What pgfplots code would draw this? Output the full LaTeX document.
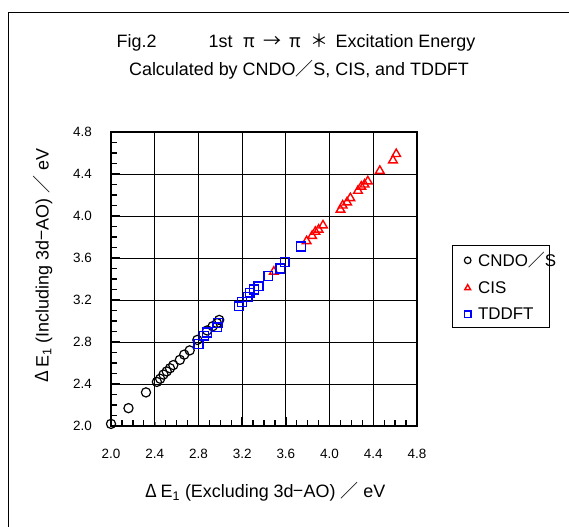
\documentclass[border=0pt]{standalone}
\usepackage{pgfplots}
\pgfplotsset{compat=1.18}
\usepackage{fontspec}
\setmainfont{Liberation Sans}
\newfontfamily\jp{Noto Sans CJK JP}
\newcommand{\fw}[2][1em]{\makebox[#1]{\jp #2}}
\begin{document}
\begin{tikzpicture}
\useasboundingbox (0,0) rectangle (569bp,527bp);
% chart frame: only its left and top edges lie inside the picture
\draw[line width=0.9bp] (8bp,-5bp) -- (8bp,515bp) -- (580bp,515bp);
\node[font=\fontsize{18}{21}\selectfont] at (296bp,484bp) {Fig.2\hspace{2.9em}1st\ \fw[1.3em]{π}\fw[1.3em]{→}\fw[1.3em]{π}\fw[1.3em]{＊} Excitation Energy};
\node[font=\fontsize{18}{21}\selectfont] at (299bp,457bp) {Calculated by CNDO{\jp ／}S, CIS, and TDDFT};
\begin{axis}[
  at={(111bp,101bp)}, anchor=south west,
  scale only axis, width=306bp, height=294bp,
  xmin=2.0, xmax=4.8, ymin=2.0, ymax=4.8,
  xtick={2.0,2.4,2.8,3.2,3.6,4.0,4.4,4.8},
  ytick={2.0,2.4,2.8,3.2,3.6,4.0,4.4,4.8},
  xticklabels={2.0,2.4,2.8,3.2,3.6,4.0,4.4,4.8},
  yticklabels={2.0,2.4,2.8,3.2,3.6,4.0,4.4,4.8},
  tick pos=left, tick align=inside,
  xmajorgrids, ymajorgrids,
  grid style={black, line width=0.9bp},
  axis line style={line width=1.3bp},
  ticklabel style={font=\fontsize{13.5}{16}\selectfont, inner sep=0pt},
  xticklabel style={anchor=north, yshift=-23bp},
  yticklabel style={anchor=east, xshift=-19bp},
  xlabel={\fw{Δ}E\textsubscript{1} (Excluding 3d{\jp −}AO) {\jp ／} eV},
  ylabel={\fw{Δ}E\textsubscript{1} (Including 3d{\jp −}AO) {\jp ／} eV},
  label style={font=\fontsize{18}{21}\selectfont},
  xlabel style={at={(axis description cs:0.5,0)}, anchor=center, yshift=-66bp},
  ylabel style={at={(axis description cs:0,0.54)}, anchor=center, rotate=0, yshift=68bp},
  clip=false,
  legend style={at={(axis description cs:1.114,0.333)}, anchor=south west,
    draw=black, line width=0.8bp, font=\fontsize{17}{20}\selectfont,
    row sep=9bp, inner xsep=3bp, inner ysep=5bp, cells={anchor=west},
    text width=66bp},
  legend image code/.code={\path (0bp,0bp) (20bp,0bp); \draw[#1, mark size=3.3bp] plot coordinates {(12bp,0bp)};},
]
% thick left/bottom axis lines with inward tick marks every 0.1
\draw[line width=2.4bp] (rel axis cs:0,1) -- (rel axis cs:0,0) -- (rel axis cs:1,0);
\pgfplotsinvokeforeach{2.1,2.2,2.3,2.5,2.6,2.7,2.9,3.0,3.1,3.3,3.4,3.5,3.7,3.8,3.9,4.1,4.2,4.3,4.5,4.6,4.7}{
  \draw[line width=1.3bp] (axis cs:#1,2.0) -- (axis cs:#1,2.057);
  \draw[line width=1.3bp] (axis cs:2.0,#1) -- (axis cs:2.055,#1);
}
\pgfplotsinvokeforeach{2.4,2.8,3.2,3.6,4.0,4.4}{
  \draw[line width=1.3bp] (axis cs:#1,2.0) -- (axis cs:#1,2.085);
  \draw[line width=1.3bp] (axis cs:2.0,#1) -- (axis cs:2.082,#1);
}
\addplot[only marks, mark=o, mark size=4.6bp, mark options={black, fill=white, line width=1.2bp}]
coordinates {
(2.00,2.02) (2.16,2.17) (2.32,2.32) (2.42,2.42) (2.45,2.45) (2.48,2.49)
(2.51,2.52) (2.54,2.55) (2.57,2.58) (2.63,2.63) (2.67,2.68) (2.72,2.72)
(2.79,2.82) (2.88,2.91) (2.93,2.95) (2.97,2.98) (2.99,3.01)
};
\addlegendentry{CNDO{\jp ／}S}
\addplot[only marks, mark=triangle, mark size=5bp, mark options={red, fill=white, line width=1.4bp}]
coordinates {
(3.49,3.47) (3.79,3.76) (3.84,3.81) (3.87,3.85) (3.90,3.87) (3.94,3.91)
(4.10,4.06) (4.12,4.10) (4.16,4.13) (4.19,4.17) (4.26,4.24) (4.29,4.28)
(4.32,4.30) (4.35,4.33) (4.46,4.43) (4.58,4.53) (4.61,4.59)
};
\addlegendentry{CIS}
\addplot[only marks, mark=square, mark size=4.4bp, mark options={blue, fill=white, line width=1.4bp}]
coordinates {
(2.80,2.78) (2.85,2.86) (2.88,2.89) (2.97,2.94) (2.98,2.98) (3.17,3.14)
(3.20,3.18) (3.25,3.23) (3.27,3.27) (3.31,3.30) (3.35,3.33) (3.44,3.43)
(3.55,3.50) (3.59,3.56) (3.74,3.71)
};
\addlegendentry{TDDFT}
\end{axis}
\end{tikzpicture}
\end{document}
